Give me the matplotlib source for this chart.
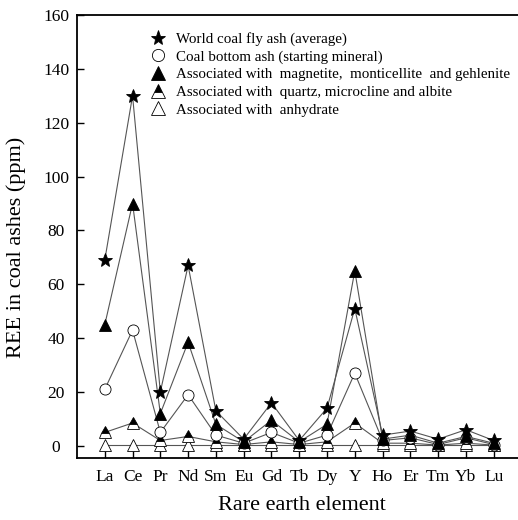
import numpy as np
import matplotlib
matplotlib.use('Agg')
import matplotlib.pyplot as plt

plt.rcParams['font.family'] = ['Liberation Serif', 'DejaVu Serif']

# rare earth elements on the x axis
elements = ['La', 'Ce', 'Pr', 'Nd', 'Sm', 'Eu', 'Gd', 'Tb', 'Dy', 'Y', 'Ho', 'Er', 'Tm', 'Yb', 'Lu']

# REE contents (ppm)
world_fly_ash = [69, 130, 20, 67, 13, 2.5, 16, 2, 14, 51, 4, 5.5, 2.5, 6, 2]
bottom_ash = [21, 43, 5, 19, 4, 1, 5, 1, 4, 27, 2, 3, 0.5, 3, 0.5]
magnetite = [45, 90, 12, 38.5, 8, 1.5, 9.5, 1.5, 8, 65, 2.5, 4, 1, 3.5, 1]
quartz = [5, 8.5, 2, 3.5, 1.5, 0.5, 1.5, 0.5, 1.5, 8.5, 1, 1, 0.3, 1, 0.3]
anhydrate = [0.3, 0.3, 0.3, 0.3, 0.3, 0.3, 0.3, 0.3, 0.3, 0.3, 0.3, 0.3, 0.3, 0.3, 0.3]

labels = ['World coal fly ash (average)',
          'Coal bottom ash (starting mineral)',
          'Associated with  magnetite,  monticellite  and gehlenite',
          'Associated with  quartz, microcline and albite',
          'Associated with  anhydrate']

x = np.arange(len(elements))

fig = plt.figure(figsize=(5.18, 5.2), dpi=100)
ax = fig.add_axes([77/518, 62/520, 450/518, 443/520])

line_col = '#555555'
# draw bottom-most first so the stars sit on top
ax.plot(x, anhydrate, color=line_col, lw=0.8, marker='^', ms=9,
        mfc='white', mec='black', mew=0.6, label=labels[4], zorder=2)
ax.plot(x, quartz, color=line_col, lw=0.8, marker='^', ms=9,
        fillstyle='top', mfc='black', mfcalt='white', mec='black', mew=0.6,
        label=labels[3], zorder=3)
ax.plot(x, bottom_ash, color=line_col, lw=0.8, marker='o', ms=8,
        mfc='white', mec='black', mew=0.6, label=labels[1], zorder=4)
ax.plot(x, magnetite, color=line_col, lw=0.8, marker='^', ms=9,
        mfc='black', mec='black', mew=0.6, label=labels[2], zorder=5)
ax.plot(x, world_fly_ash, color=line_col, lw=0.8, marker='*', ms=10,
        mfc='black', mec='black', mew=0.6, label=labels[0], zorder=6)

handles, labs = ax.get_legend_handles_labels()
order = [labs.index(l) for l in labels]
leg = ax.legend([handles[i] for i in order], [labs[i] for i in order],
                loc='upper left', bbox_to_anchor=(0.146, 0.995), frameon=False,
                fontsize=10.8, handlelength=0, handletextpad=1.2,
                labelspacing=0.27, borderaxespad=0.6, markerscale=1.1)

ax.set_xlim(-1, 15.2)
ax.set_ylim(-4.5, 160)
ax.set_xticks(x)
ax.set_xticklabels(elements)
ax.set_yticks(np.arange(0, 161, 20))
ax.tick_params(direction='in', labelsize=12.5, length=5, width=1)
ax.tick_params(axis='x', pad=8)
ax.tick_params(axis='y', pad=15)
for t in ax.get_yticklabels():
    t.set_horizontalalignment('center')
for s in ax.spines.values():
    s.set_linewidth(1.3)

ax.set_xlabel('Rare earth element', fontsize=16, labelpad=8)
ax.set_ylabel('REE in coal ashes (ppm)', fontsize=16)
ax.yaxis.set_label_coords(-0.113, 0.475)

fig.savefig('out.png', dpi=100)
